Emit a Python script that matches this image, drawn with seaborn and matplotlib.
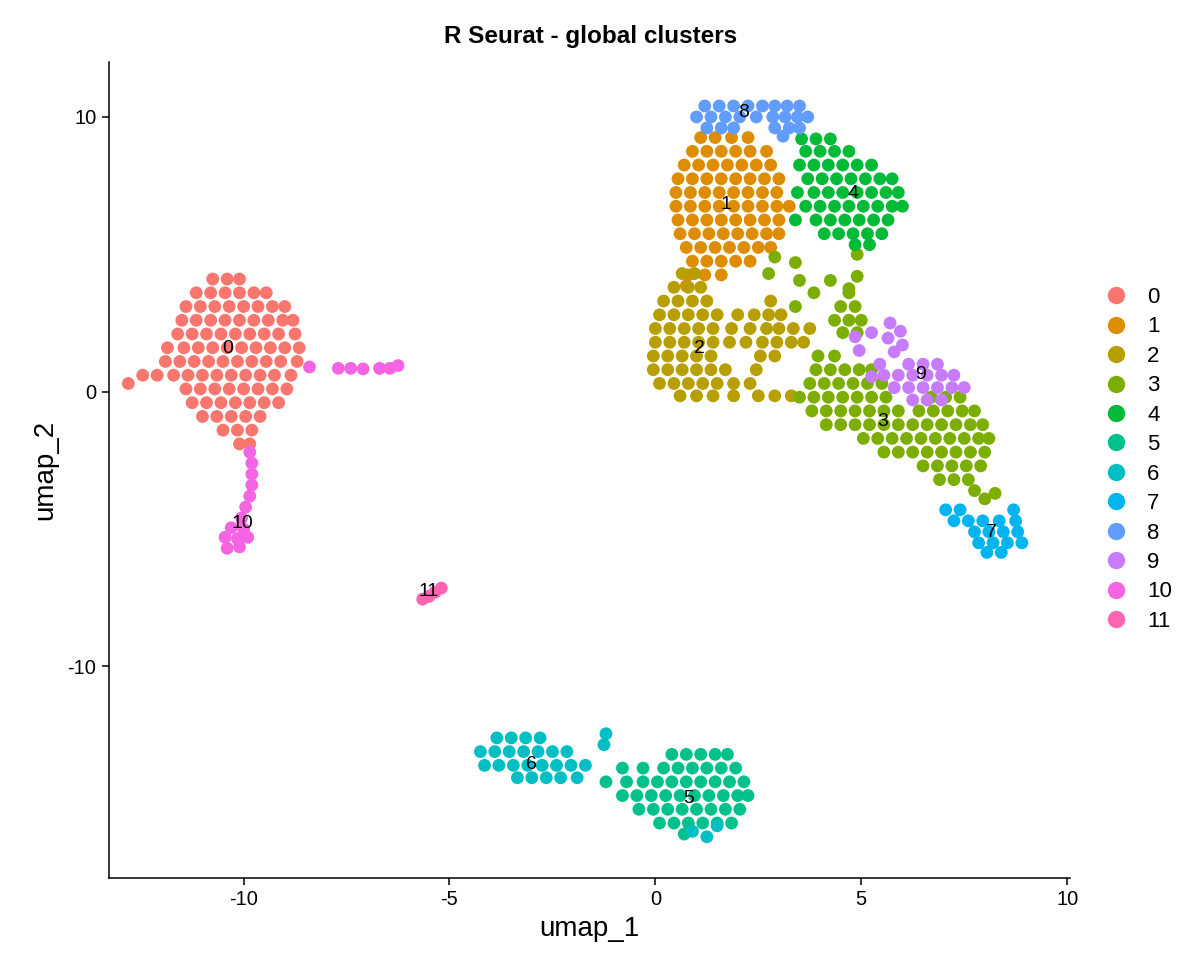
import matplotlib
matplotlib.use("Agg")
import matplotlib.pyplot as plt
from matplotlib.lines import Line2D
import pandas as pd
import seaborn as sns

cluster_names = [str(i) for i in range(12)]
palette = ["#F8766D", "#DE8C00", "#B79F00", "#7CAE00", "#00BA38", "#00C08B",
           "#00BFC4", "#00B4F0", "#619CFF", "#C77CFF", "#F564E3", "#FF64B0"]

# cells, grouped by row: (umap_2, [umap_1, ...])
c0 = [
    (4.1, [-10.75, -10.4, -10.1]),
    (3.6, [-11.15, -10.8, -10.45, -10.1, -9.75, -9.45]),
    (3.1, [-11.4, -11.05, -10.7, -10.35, -10.0, -9.65, -9.3, -9.0]),
    (2.6, [-11.5, -11.15, -10.8, -10.45, -10.1, -9.75, -9.4, -9.05, -8.8]),
    (2.1, [-11.6, -11.25, -10.9, -10.55, -10.2, -9.85, -9.5, -9.15, -8.75]),
    (1.6, [-11.85, -11.45, -11.1, -10.75, -10.4, -10.05, -9.7, -9.35, -9.0, -8.65]),
    (1.1, [-11.9, -11.55, -11.2, -10.85, -10.5, -10.15, -9.8, -9.45, -9.1, -8.7]),
    (0.6, [-12.45, -12.1, -11.7, -11.35, -11.0, -10.65, -10.3, -9.95, -9.6, -9.25, -8.85]),
    (0.3, [-12.8]),
    (0.1, [-11.4, -11.05, -10.7, -10.35, -10.0, -9.65, -9.3, -8.95]),
    (-0.4, [-11.25, -10.9, -10.55, -10.2, -9.85, -9.5, -9.15]),
    (-0.9, [-11.0, -10.65, -10.3, -9.95, -9.6]),
    (-1.4, [-10.5, -10.15, -9.8]),
    (-1.9, [-10.1, -9.85]),
]
c1 = [
    (9.25, [1.1, 1.45, 1.85, 2.25]),
    (8.75, [0.9, 1.25, 1.6, 1.95, 2.3, 2.7]),
    (8.25, [0.7, 1.05, 1.4, 1.75, 2.1, 2.45, 2.8]),
    (7.75, [0.55, 0.9, 1.25, 1.6, 1.95, 2.3, 2.65, 3.0]),
    (7.25, [0.5, 0.85, 1.2, 1.55, 1.9, 2.25, 2.6, 2.95]),
    (6.75, [0.5, 0.85, 1.2, 1.55, 1.9, 2.25, 2.6, 2.95, 3.25]),
    (6.25, [0.55, 0.9, 1.25, 1.6, 1.95, 2.3, 2.65, 3.0]),
    (5.75, [0.6, 0.95, 1.3, 1.65, 2.0, 2.35, 2.7, 3.0]),
    (5.25, [0.75, 1.1, 1.45, 1.8, 2.15, 2.5, 2.8]),
    (4.75, [0.9, 1.25, 1.6, 1.95, 2.3]),
    (4.25, [0.8, 1.2, 1.6]),
    (3.85, [0.75]),
]
c2 = [
    (4.3, [0.65, 0.95]),
    (3.8, [0.45, 0.8, 1.1]),
    (3.3, [0.2, 0.55, 0.9, 1.25, 2.8]),
    (2.8, [0.1, 0.45, 0.8, 1.15, 1.5, 2.0, 2.4, 2.75, 3.05]),
    (2.3, [0.0, 0.35, 0.7, 1.05, 1.4, 1.85, 2.3, 2.7, 3.0, 3.35, 3.75]),
    (1.8, [0.0, 0.35, 0.7, 1.05, 1.4, 1.8, 2.2, 2.6, 2.95, 3.3, 3.6]),
    (1.3, [-0.05, 0.3, 0.65, 1.0, 1.35, 2.55, 2.9]),
    (0.8, [-0.05, 0.3, 0.65, 1.0, 1.35, 1.7, 2.45]),
    (0.3, [0.1, 0.45, 0.8, 1.15, 1.5, 1.9, 2.3]),
    (-0.15, [0.6, 1.0, 1.4, 1.9, 2.5, 2.9, 3.3]),
]
c3 = [
    (5.0, [4.9]),
    (4.9, [2.9]),
    (4.7, [3.4]),
    (4.3, [2.75]),
    (4.2, [4.9]),
    (4.05, [3.5, 4.25]),
    (3.75, [4.7]),
    (3.6, [3.85, 4.7]),
    (3.1, [3.4, 4.5, 4.85]),
    (2.6, [4.35, 4.7, 5.0]),
    (2.15, [4.55, 4.9]),
    (1.3, [3.95, 4.35]),
    (0.8, [3.9, 4.25, 4.6, 4.95, 5.25]),
    (0.3, [3.75, 4.1, 4.45, 4.8, 5.15, 5.5]),
    (-0.2, [3.5, 3.85, 4.2, 4.55, 4.9, 5.25, 5.6, 6.7, 7.05, 7.4]),
    (-0.7, [3.8, 4.15, 4.5, 4.85, 5.2, 5.55, 5.9, 6.4, 6.75, 7.1, 7.45, 7.75]),
    (-1.2, [4.15, 4.5, 4.85, 5.2, 5.55, 5.9, 6.25, 6.6, 6.95, 7.3, 7.65, 7.95]),
    (-1.7, [5.05, 5.4, 5.75, 6.1, 6.45, 6.8, 7.15, 7.5, 7.85, 8.1]),
    (-2.2, [5.55, 5.9, 6.25, 6.6, 6.95, 7.3, 7.65, 8.0]),
    (-2.7, [6.5, 6.85, 7.2, 7.55, 7.9]),
    (-3.2, [6.9, 7.25, 7.6]),
    (-3.6, [7.75]),
    (-3.7, [8.25]),
    (-3.9, [8.0]),
]
c4 = [
    (9.2, [3.55, 3.9, 4.25]),
    (8.75, [3.65, 4.0, 4.35, 4.7]),
    (8.25, [3.5, 3.85, 4.2, 4.55, 4.9, 5.25]),
    (7.75, [3.7, 4.05, 4.4, 4.75, 5.1, 5.45, 5.75]),
    (7.25, [3.45, 3.85, 4.2, 4.55, 4.9, 5.25, 5.6, 5.9]),
    (6.75, [3.65, 4.0, 4.35, 4.7, 5.05, 5.4, 5.75, 6.0]),
    (6.25, [3.4, 3.9, 4.25, 4.6, 4.95, 5.3, 5.65]),
    (5.75, [4.1, 4.45, 4.8, 5.15, 5.5]),
    (5.35, [4.85, 5.2]),
]
c5 = [
    (-13.2, [0.4, 0.75, 1.1, 1.45, 1.75]),
    (-13.7, [-0.8, -0.3, 0.2, 0.55, 0.9, 1.25, 1.6, 1.95]),
    (-14.2, [-1.2, -0.7, -0.3, 0.05, 0.4, 0.75, 1.1, 1.45, 1.8, 2.15]),
    (-14.7, [-0.8, -0.45, -0.1, 0.25, 0.6, 0.95, 1.3, 1.65, 2.0, 2.25]),
    (-15.2, [-0.4, -0.05, 0.3, 0.65, 1.0, 1.35, 1.7, 2.05]),
    (-15.7, [0.1, 0.45, 0.8, 1.15, 1.5, 1.85]),
    (-16.1, [0.7]),
]
c6 = [
    (-12.45, [-1.2]),
    (-12.6, [-3.85, -3.5, -3.15, -2.8]),
    (-12.85, [-1.25]),
    (-13.1, [-4.25, -3.9, -3.55, -3.2, -2.85, -2.5, -2.15]),
    (-13.6, [-4.15, -3.8, -3.45, -3.1, -2.75, -2.4, -2.05, -1.7]),
    (-14.05, [-3.35, -3.0, -2.65, -2.3, -1.9]),
    (-15.8, [1.5]),
    (-16.0, [0.9]),
    (-16.2, [1.25]),
]
c7 = [
    (-4.3, [7.05, 7.4, 8.7]),
    (-4.7, [7.25, 7.6, 7.95, 8.35, 8.75]),
    (-5.1, [7.75, 8.1, 8.45, 8.8]),
    (-5.5, [7.85, 8.2, 8.55, 8.9]),
    (-5.85, [8.05, 8.4]),
]
c8 = [
    (10.4, [1.2, 1.55, 1.9, 2.25, 2.6, 2.9, 3.2, 3.5]),
    (10.0, [1.0, 1.35, 1.7, 2.05, 2.45, 2.85, 3.15, 3.45, 3.7]),
    (9.6, [1.25, 1.6, 1.9, 2.9, 3.25, 3.5]),
    (9.3, [3.1]),
]
c9 = [
    (2.5, [5.7]),
    (2.2, [5.95]),
    (2.15, [5.25]),
    (2.0, [4.85]),
    (1.95, [5.65]),
    (1.7, [6.0]),
    (1.5, [4.95]),
    (1.45, [5.8]),
    (1.0, [5.45, 6.15, 6.5, 6.85]),
    (0.6, [5.55, 5.9, 6.25, 6.6, 6.95, 7.25]),
    (0.55, [5.25]),
    (0.15, [5.8, 6.15, 6.5, 6.85, 7.2, 7.5]),
    (-0.3, [6.25, 6.6, 6.95]),
]
c10 = [
    (0.95, [-6.25]),
    (0.9, [-8.4]),
    (0.85, [-7.7, -7.4, -6.7, -6.45]),
    (0.83, [-7.1]),
    (-2.2, [-9.85]),
    (-2.6, [-9.8]),
    (-3.0, [-9.8]),
    (-3.4, [-9.8]),
    (-3.8, [-9.85]),
    (-4.2, [-9.95]),
    (-4.6, [-10.05]),
    (-4.95, [-10.3]),
    (-5.0, [-10.0]),
    (-5.3, [-10.45, -9.9]),
    (-5.35, [-10.15]),
    (-5.65, [-10.1]),
    (-5.7, [-10.4]),
]
c11 = [
    (-7.55, [-5.65]),
    (-7.45, [-5.5]),
    (-7.3, [-5.35]),
    (-7.15, [-5.2]),
]
clusters = [c0, c1, c2, c3, c4, c5, c6, c7, c8, c9, c10, c11]

# cluster label positions
label_x = [-10.38, 1.72, 1.07, 5.53, 4.8, 0.82, -3.0, 8.17, 2.13, 6.43, -10.02, -5.5]
label_y = [1.56, 6.8, 1.56, -1.1, 7.23, -14.8, -13.56, -5.13, 10.15, 0.62, -4.78, -7.27]

records = []
for name, rows in zip(cluster_names, clusters):
    for y, xs in rows:
        for x in xs:
            records.append((x, y, name))
df = pd.DataFrame(records, columns=["umap_1", "umap_2", "cluster"])

sns.set_theme(style="ticks")
plt.rcParams["font.family"] = ["Liberation Sans", "DejaVu Sans"]
plt.rcParams["axes.unicode_minus"] = False
plt.rcParams["text.color"] = "black"

fig = plt.figure(figsize=(12, 9.75), dpi=100)
ax = fig.add_axes([0.0908, 0.0995, 0.8009, 0.8369])

sns.scatterplot(data=df, x="umap_1", y="umap_2", hue="cluster",
                hue_order=cluster_names, palette=palette, s=85,
                linewidth=0, legend=False, ax=ax)

for name, lx, ly in zip(cluster_names, label_x, label_y):
    ax.text(lx, ly, name, ha="center", va="center", fontsize=14, color="black")

ax.set_xlim(-13.27, 10.07)
ax.set_ylim(-17.7, 12.0)
ax.set_xticks([-10, -5, 0, 5, 10])
ax.set_yticks([-10, 0, 10])
sns.despine(ax=ax)
for side in ["left", "bottom"]:
    ax.spines[side].set_linewidth(1.1)
    ax.spines[side].set_color("black")
ax.tick_params(length=5, width=1.1, color="black", labelsize=14.5,
               labelcolor="black", pad=4)
ax.set_xlabel("umap_1", fontsize=20, color="black", labelpad=5)
ax.set_ylabel("umap_2", fontsize=20, color="black", labelpad=7)

fig.text(0.4925, 1 - 37 / 975, "R Seurat - global clusters", ha="center",
         va="center", fontsize=17.5, fontweight="bold", color="black")

handles = [Line2D([0], [0], marker="o", ls="", markersize=12.5,
                  markerfacecolor=c, markeredgewidth=0) for c in palette]
fig.legend(handles, cluster_names, loc="upper left",
           bbox_to_anchor=(1105 / 1200, 1 - 287 / 975), frameon=False,
           fontsize=16, handlelength=1.0, handletextpad=0.9,
           labelspacing=0.38, borderpad=0, borderaxespad=0)

fig.savefig("out.png", dpi=100)
